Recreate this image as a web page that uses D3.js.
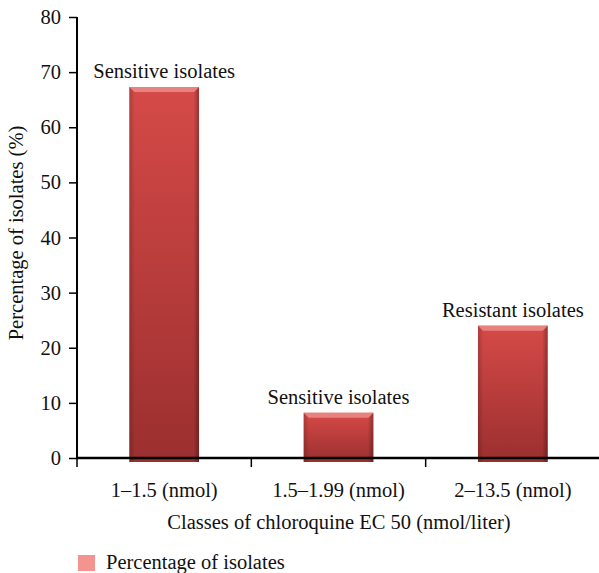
<!DOCTYPE html>
<html>
<head>
<meta charset="utf-8">
<script src="https://cdn.jsdelivr.net/npm/d3@7"></script>
<style>
  body { margin: 0; background: #fff; }
  text { font-family: "Liberation Serif", "DejaVu Serif", serif; fill: #111; }
</style>
</head>
<body>
<div id="container"></div>
<script>
// chart data
var categories = ["1\u20131.5 (nmol)", "1.5\u20131.99 (nmol)", "2\u201313.5 (nmol)"];
var values = [67.3, 8.2, 24.0];
var barLabels = ["Sensitive isolates", "Sensitive isolates", "Resistant isolates"];
var yTicks = [0, 10, 20, 30, 40, 50, 60, 70, 80];

var width = 599, height = 573;
var margin = {left: 77, right: 0, top: 17, bottom: 115};
var fs = "20.5px";

var svg = d3.select("#container").append("svg")
    .attr("width", width)
    .attr("height", height);

var defs = svg.append("defs");
var grad = defs.append("linearGradient")
    .attr("id", "barGrad")
    .attr("x1", 0).attr("y1", 0).attr("x2", 0).attr("y2", 1);
grad.append("stop").attr("offset", "0%").attr("stop-color", "#d54a48");
grad.append("stop").attr("offset", "100%").attr("stop-color", "#9b2f2f");

var side = defs.append("linearGradient")
    .attr("id", "sideGrad")
    .attr("x1", 0).attr("y1", 0).attr("x2", 1).attr("y2", 0);
side.append("stop").attr("offset", "0%").attr("stop-color", "#000").attr("stop-opacity", 0.18);
side.append("stop").attr("offset", "8%").attr("stop-color", "#000").attr("stop-opacity", 0);
side.append("stop").attr("offset", "92%").attr("stop-color", "#000").attr("stop-opacity", 0);
side.append("stop").attr("offset", "100%").attr("stop-color", "#000").attr("stop-opacity", 0.3);

var x = d3.scaleBand()
    .domain(categories)
    .range([margin.left, width - margin.right + 1])
    .paddingInner(0.6)
    .paddingOuter(0.3);

var y = d3.scaleLinear()
    .domain([0, 80])
    .range([height - margin.bottom, margin.top]);

var band = (width - margin.right + 1 - margin.left) / categories.length;

// bars
var bars = svg.append("g");
values.forEach(function(v, i){
    var bx = x(categories[i]);
    var bw = x.bandwidth();
    var top = y(v);
    var bottom = y(0) + 4;
    bars.append("rect")
        .attr("x", bx).attr("y", top)
        .attr("width", bw).attr("height", bottom - top)
        .attr("fill", "url(#barGrad)");
    bars.append("rect")
        .attr("x", bx).attr("y", top)
        .attr("width", bw).attr("height", bottom - top)
        .attr("fill", "url(#sideGrad)");
    // bevel on top
    bars.append("path")
        .attr("d", "M" + bx + "," + top + "L" + (bx + bw) + "," + top +
              "L" + (bx + bw - 5) + "," + (top + 5) + "L" + (bx + 5) + "," + (top + 5) + "Z")
        .attr("fill", "#e8827e");
    bars.append("text")
        .attr("x", bx + bw / 2)
        .attr("y", top - 9)
        .attr("text-anchor", "middle")
        .attr("font-size", fs)
        .text(barLabels[i]);
});

// y axis
var yAxis = svg.append("g")
    .attr("transform", "translate(" + margin.left + ",0)")
    .call(d3.axisLeft(y).tickValues(yTicks).tickSize(8).tickPadding(8));
yAxis.select(".domain").attr("stroke-width", 2).attr("d", "M0," + y(80) + "V" + y(0));
yAxis.selectAll(".tick line").attr("stroke-width", 1.5);
yAxis.selectAll(".tick text")
    .attr("font-size", fs)
    .attr("fill", "#111")
    .style("font-family", "Liberation Serif, serif");

// x axis
var xg = svg.append("g").attr("transform", "translate(0," + y(0) + ")");
xg.append("line")
    .attr("x1", margin.left).attr("x2", width)
    .attr("stroke", "#000").attr("stroke-width", 2.5);
d3.range(categories.length).forEach(function(i){
    var tx = margin.left + i * band;
    xg.append("line")
        .attr("x1", tx).attr("x2", tx)
        .attr("y1", 0).attr("y2", 9)
        .attr("stroke", "#000").attr("stroke-width", 1.5);
});
categories.forEach(function(c){
    xg.append("text")
        .attr("x", x(c) + x.bandwidth() / 2)
        .attr("y", 39)
        .attr("text-anchor", "middle")
        .attr("font-size", fs)
        .text(c);
});

// axis titles
svg.append("text")
    .attr("x", 339)
    .attr("y", 529)
    .attr("text-anchor", "middle")
    .attr("font-size", fs)
    .text("Classes of chloroquine EC 50 (nmol/liter)");

svg.append("text")
    .attr("transform", "translate(23," + 233 + ") rotate(-90)")
    .attr("text-anchor", "middle")
    .attr("font-size", fs)
    .text("Percentage of isolates (%)");

// legend
svg.append("rect")
    .attr("x", 78).attr("y", 555)
    .attr("width", 17).attr("height", 16)
    .attr("fill", "#f4948f");
svg.append("text")
    .attr("x", 106).attr("y", 569)
    .attr("font-size", fs)
    .text("Percentage of isolates");
</script>
</body>
</html>
